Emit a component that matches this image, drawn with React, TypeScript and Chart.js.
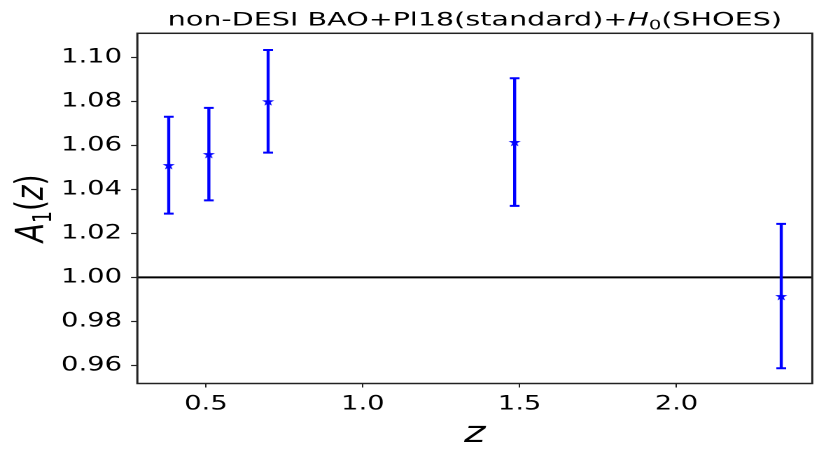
import React, { useEffect, useRef } from 'react';
import { Chart, registerables } from 'chart.js';

Chart.register(...registerables);

// ---- data ----
const zValues = [0.381, 0.509, 0.698, 1.484, 2.334];
const a1Values = [1.051, 1.056, 1.080, 1.0615, 0.9915];
const a1Errors = [0.022, 0.021, 0.0233, 0.029, 0.0328];
const xTickValues = [0.5, 1.0, 1.5, 2.0];
const yTickValues = [0.96, 0.98, 1.0, 1.02, 1.04, 1.06, 1.08, 1.1];
const referenceLevel = 1.0;
const xRange = [0.281, 2.433];
const yRange = [0.9518, 1.1109];

// text
const titleMain = 'non-DESI BAO+Pl18(standard)+';
const titleH = 'H';
const titleSub = '0';
const titleTail = '(SHOES)';
const xLabel = 'z';
const yLabelA = 'A';
const yLabelSub = '1';
const yLabelOpen = '(';
const yLabelZ = 'z';
const yLabelClose = ')';

// ---- styling / layout ----
const STRETCH = 1.4;
const OUT_W = 826;
const OUT_H = 459;
const LOGICAL_W = OUT_W / STRETCH;
const FONT = '"DejaVu Sans", "Noto Sans", sans-serif';
const BLUE = '#0000ff';
const STAR_SIZE = 10;
const STAR_RES = 4;

function makeStar(): Promise<HTMLImageElement> {
  const c = document.createElement('canvas');
  c.width = STAR_SIZE * STAR_RES;
  c.height = STAR_SIZE * STAR_RES;
  const g = c.getContext('2d')!;
  g.scale(STAR_RES, STAR_RES);
  const cx = 5, cy = 5.5, R = 4.6, r = 1.9;
  g.beginPath();
  for (let k = 0; k < 10; k++) {
    const ang = -Math.PI / 2 + (k * Math.PI) / 5;
    const rad = k % 2 === 0 ? R : r;
    const px = cx + rad * Math.cos(ang);
    const py = cy + rad * Math.sin(ang);
    if (k === 0) g.moveTo(px, py);
    else g.lineTo(px, py);
  }
  g.closePath();
  g.fillStyle = BLUE;
  g.fill();
  return new Promise((resolve) => {
    const img = new Image(STAR_SIZE, STAR_SIZE);
    img.onload = () => resolve(img);
    img.onerror = () => resolve(img);
    img.src = c.toDataURL();
  });
}

function drawSegments(
  ctx: CanvasRenderingContext2D,
  segs: { t: string; f: string; dy: number }[],
  centerX: number,
  baseY: number
) {
  let total = 0;
  const widths = segs.map((s) => {
    ctx.font = s.f;
    const w = ctx.measureText(s.t).width;
    total += w;
    return w;
  });
  let xPos = centerX - total / 2;
  segs.forEach((s, i) => {
    ctx.font = s.f;
    ctx.fillText(s.t, xPos, baseY + s.dy);
    xPos += widths[i];
  });
}

const decorPlugin = {
  id: 'decor',
  beforeDatasetsDraw(chart: any) {
    const { ctx, chartArea: a, scales } = chart;
    const xs = scales.x;
    const ys = scales.y;
    ctx.save();
    // reference line
    const yr = ys.getPixelForValue(referenceLevel);
    ctx.strokeStyle = '#000';
    ctx.lineWidth = 2;
    ctx.beginPath();
    ctx.moveTo(a.left, yr);
    ctx.lineTo(a.right, yr);
    ctx.stroke();
    // error bars
    ctx.strokeStyle = BLUE;
    zValues.forEach((z, i) => {
      const px = xs.getPixelForValue(z);
      const top = ys.getPixelForValue(a1Values[i] + a1Errors[i]);
      const bot = ys.getPixelForValue(a1Values[i] - a1Errors[i]);
      ctx.lineWidth = 2.2;
      ctx.beginPath();
      ctx.moveTo(px, top);
      ctx.lineTo(px, bot);
      ctx.stroke();
      ctx.lineWidth = 2;
      ctx.beginPath();
      ctx.moveTo(px - 3.5, top);
      ctx.lineTo(px + 3.5, top);
      ctx.moveTo(px - 3.5, bot);
      ctx.lineTo(px + 3.5, bot);
      ctx.stroke();
    });
    ctx.restore();
  },
  afterDraw(chart: any) {
    const { ctx, chartArea: a } = chart;
    ctx.save();
    // frame
    ctx.strokeStyle = '#222';
    ctx.lineWidth = 1.5;
    ctx.strokeRect(a.left, a.top, a.right - a.left, a.bottom - a.top);

    ctx.fillStyle = '#000';
    ctx.textBaseline = 'alphabetic';
    ctx.textAlign = 'left';
    const cx = (a.left + a.right) / 2;

    // title
    ctx.save();
    ctx.translate(cx, 0);
    ctx.scale(1.075, 1);
    drawSegments(
      ctx,
      [
        { t: titleMain, f: `normal 19px ${FONT}`, dy: 0 },
        { t: titleH, f: `italic 19px ${FONT}`, dy: 0 },
        { t: titleSub, f: `normal 13px ${FONT}`, dy: 4 },
        { t: titleTail, f: `normal 19px ${FONT}`, dy: 0 },
      ],
      0,
      25.5
    );
    ctx.restore();

    // x label
    drawSegments(ctx, [{ t: xLabel, f: `italic 29px ${FONT}`, dy: 0 }], cx, 442);

    // y label
    ctx.save();
    ctx.translate(30.7, (a.top + a.bottom) / 2);
    ctx.rotate(-Math.PI / 2);
    drawSegments(
      ctx,
      [
        { t: yLabelA, f: `italic 28px ${FONT}`, dy: 0 },
        { t: yLabelSub, f: `normal 19px ${FONT}`, dy: 6 },
        { t: yLabelOpen, f: `normal 28px ${FONT}`, dy: 0 },
        { t: yLabelZ, f: `italic 28px ${FONT}`, dy: 0 },
        { t: yLabelClose, f: `normal 28px ${FONT}`, dy: 0 },
      ],
      0,
      0
    );
    ctx.restore();
    ctx.restore();
  },
};

export default function App() {
  const canvasRef = useRef<HTMLCanvasElement | null>(null);

  useEffect(() => {
    document.body.style.margin = '0';
    const canvas = canvasRef.current;
    if (!canvas) return;
    let chart: Chart | null = null;
    let cancelled = false;
    makeStar().then((star) => {
      if (cancelled) return;
      chart = new Chart(canvas, {
        type: 'scatter',
        data: {
          datasets: [
            {
              data: zValues.map((z, i) => ({ x: z, y: a1Values[i] })),
              pointStyle: star as any,
              pointRadius: 4,
              backgroundColor: BLUE,
              borderColor: BLUE,
              showLine: false,
            },
          ],
        },
        options: {
          animation: false,
          responsive: true,
          maintainAspectRatio: false,
          devicePixelRatio: 2,
          layout: { padding: { left: 0, right: LOGICAL_W - 580.2, top: 33.3, bottom: 0 } },
          plugins: {
            legend: { display: false },
            tooltip: { enabled: false },
            title: { display: false },
          },
          events: [],
          scales: {
            x: {
              type: 'linear',
              min: xRange[0],
              max: xRange[1],
              afterBuildTicks: (s: any) => {
                s.ticks = xTickValues.map((v) => ({ value: v }));
              },
              afterFit: (s: any) => {
                s.height = OUT_H - 383.5;
              },
              ticks: {
                callback: (v: any) => Number(v).toFixed(1),
                font: { family: FONT, size: 19.5 },
                color: '#000',
                padding: 5,
                maxRotation: 0,
                autoSkip: false,
              },
              grid: {
                drawOnChartArea: false,
                drawTicks: true,
                tickLength: 4,
                tickColor: '#222',
                tickWidth: 1,
              },
              border: { display: false },
            },
            y: {
              type: 'linear',
              min: yRange[0],
              max: yRange[1],
              afterBuildTicks: (s: any) => {
                s.ticks = yTickValues.map((v) => ({ value: v }));
              },
              afterFit: (s: any) => {
                s.width = 98.1;
              },
              ticks: {
                callback: (v: any) => Number(v).toFixed(2),
                font: { family: FONT, size: 19.5 },
                color: '#000',
                padding: 6.5,
                autoSkip: false,
              },
              grid: {
                drawOnChartArea: false,
                drawTicks: true,
                tickLength: 4.5,
                tickColor: '#222',
                tickWidth: 1.2,
              },
              border: { display: false },
            },
          },
        },
        plugins: [decorPlugin],
      });
    });
    return () => {
      cancelled = true;
      if (chart) chart.destroy();
    };
  }, []);

  return (
    <div style={{ width: OUT_W, height: OUT_H, overflow: 'hidden', background: '#fff' }}>
      <div
        style={{
          width: LOGICAL_W,
          height: OUT_H,
          position: 'relative',
          transform: `scaleX(${STRETCH})`,
          transformOrigin: '0 0',
        }}
      >
        <canvas ref={canvasRef} />
      </div>
    </div>
  );
}
